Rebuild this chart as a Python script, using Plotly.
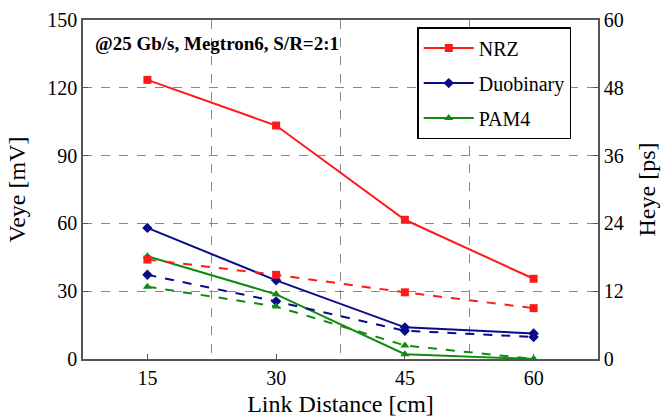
import plotly.graph_objects as go

distance = [15, 30, 45, 60]
# Veye [mV] (left axis, solid)
nrz_veye = [123.5, 103.3, 61.6, 35.5]
duo_veye = [58.0, 34.8, 14.0, 11.3]
pam4_veye = [45.5, 28.6, 2.1, 0.0]
# Heye [ps] (right axis, dashed)
nrz_heye = [17.6, 14.9, 11.8, 9.0]
duo_heye = [14.9, 10.2, 5.0, 3.9]
pam4_heye = [12.8, 9.3, 2.4, 0.0]

names = ["NRZ", "Duobinary", "PAM4"]
colors = ["#ff1a1a", "#0a0a8c", "#118a11"]
symbols = ["square", "diamond", "triangle-up"]
veye = [nrz_veye, duo_veye, pam4_veye]
heye = [nrz_heye, duo_heye, pam4_heye]

FONT = "Liberation Serif, Times New Roman, serif"
fig = go.Figure()
for i in range(3):
    fig.add_trace(go.Scatter(
        x=distance, y=veye[i], name=names[i], mode="lines+markers",
        line=dict(color=colors[i], width=2),
        marker=dict(symbol=symbols[i], size=8, color=colors[i]),
        legendgroup=names[i], yaxis="y"))
for i in range(3):
    fig.add_trace(go.Scatter(
        x=distance, y=heye[i], name=names[i], mode="lines+markers",
        line=dict(color=colors[i], width=2, dash="dash"),
        marker=dict(symbol=symbols[i], size=8, color=colors[i]),
        legendgroup=names[i], showlegend=False, yaxis="y2"))

grid = dict(gridcolor="#888888", griddash="dash", gridwidth=1)
fig.update_layout(
    width=664, height=417,
    margin=dict(l=83, r=66, t=20, b=58),
    plot_bgcolor="white", paper_bgcolor="white",
    font=dict(family=FONT, size=20, color="black"),
    showlegend=True,
    legend=dict(x=0.649, y=0.979, xanchor="left", yanchor="top",
                bordercolor="black", borderwidth=1.5, bgcolor="white",
                font=dict(family=FONT, size=20), tracegroupgap=6,
                itemwidth=50),
    xaxis=dict(range=[7.5, 67.5], tickvals=distance, showgrid=False,
               ticks="inside", ticklen=5, tickcolor="#555", automargin=False,
               showline=True, linecolor="#555", linewidth=1.5, mirror=True,
               zeroline=False,
               minor=dict(tick0=7.5, dtick=15, showgrid=True, ticks="", **grid),
               title=dict(text="Link Distance [cm]", font=dict(size=24))),
    yaxis=dict(range=[0, 150], dtick=30, showgrid=True, **grid,
               ticks="inside", ticklen=5, tickcolor="#555", automargin=False,
               showline=True, linecolor="#555", linewidth=1.5,
               zeroline=False,
               title=dict(text="Veye [mV]", font=dict(size=24))),
    yaxis2=dict(range=[0, 60], dtick=12, overlaying="y", side="right",
                showgrid=False, ticks="inside", ticklen=5, tickcolor="#555",
                automargin=False,
                showline=True, linecolor="#555", linewidth=1.5, zeroline=False,
                title=dict(text="Heye [ps]", font=dict(size=24))),
    annotations=[dict(text="<b>@25 Gb/s, Megtron6, S/R=2:1</b>", xref="paper", yref="paper",
                      x=0.02, y=0.932, xanchor="left", yanchor="middle", showarrow=False,
                      font=dict(family=FONT, size=19))],
)
fig.write_html("out.html")
